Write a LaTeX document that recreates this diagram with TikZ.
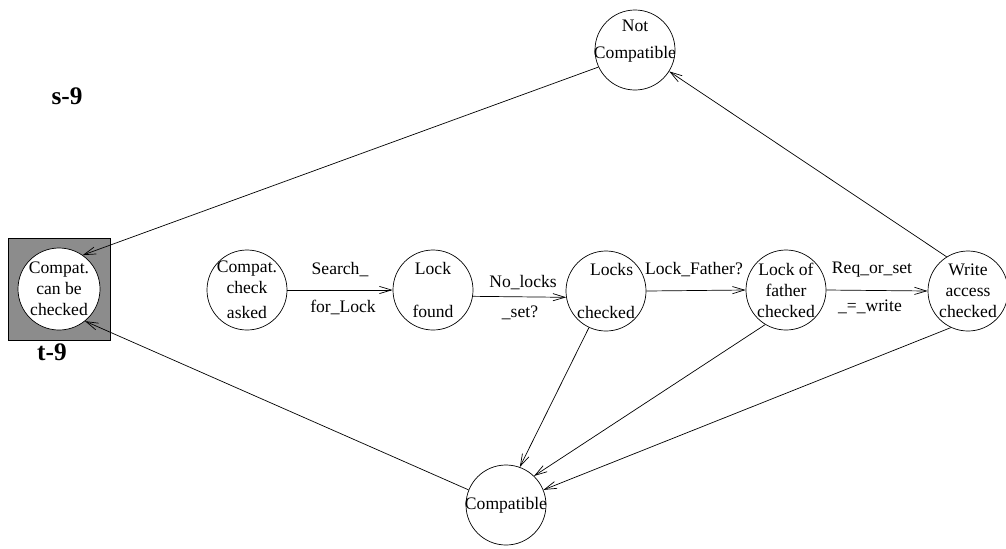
\documentclass[tikz,border=0pt]{standalone}
\usepackage{fontspec}
\setmainfont{Liberation Serif}
\usetikzlibrary{arrows.meta}

\definecolor{sqgray}{RGB}{140,140,140}

\begin{document}
\begin{tikzpicture}[
  x=0.025cm, y=-0.025cm,
  state/.style={draw, circle, fill=white, minimum size=2cm, inner sep=0pt, line width=0.5pt},
  stext/.style={align=center, inner sep=0pt, font=\fontsize{12.5}{15}\selectfont},
  edgelbl/.style={font=\fontsize{12.5}{15}\selectfont, inner sep=1pt},
  tag/.style={font=\fontsize{18}{20}\selectfont\bfseries},
  trans/.style={-{Straight Barb[length=3mm,width=1.8mm]}, line width=0.5pt},
]
\useasboundingbox (0,0) rectangle (1006,548);
% === Start state in grey square ===
\node[draw, fill=sqgray, minimum size=2.55cm, inner sep=0pt, line width=0.5pt] (sq) at (59,289) {};
\node[state, minimum size=2.05cm, label={[stext]center:{Compat.\\can be\\checked}}] (canbe) at (59,289) {};
\node[tag] (s9) at (67,96) {s-9};
\node[tag] (t9) at (52,352) {t-9};
% === States ===
\node[state, label={[stext]center:{Compat.\\check\\[3pt]asked}}] (asked) at (247,290) {};
\node[state, label={[stext]center:{Lock\\~\\found}}] (found) at (433,290) {};
\node[state, label={[stext]center:{\hspace*{8pt}Locks\\~\\checked}}] (locks) at (606,291) {};
\node[state, label={[stext]center:{Lock of\\father\\checked}}] (father) at (786,290) {};
\node[state, label={[stext]center:{Write\\access\\checked}}] (write) at (968,291) {};
\node[state, label={[stext]center:{Not\\[4pt]Compatible\\~}}] (notc) at (635,50) {};
\node[state, label={[stext]center:Compatible}] (compat) at (506,505) {};
% === Transitions ===
\draw[trans] (asked.east) -- (found.west);
\draw[trans] (found.-9) -- (locks.-171);
\draw[trans] (locks.east) -- (father.west);
\draw[trans] (father.east) -- (write.west);
\draw[trans] (write.122) -- (notc.-32);
\draw[trans] (notc.205) -- (canbe.55);
\draw[trans] (compat.158) -- (canbe.-51);
\draw[trans] (locks.-115) -- (compat.70);
\draw[trans] (father.-121) -- (compat.46);
\draw[trans] (write.-115) -- (compat.22);
% === Transition labels ===
\node[edgelbl] (l1a) at (340,270) {Search\_};
\node[edgelbl] (l1b) at (343,307) {for\_Lock};
\node[edgelbl] (l2a) at (523,283) {No\_locks};
\node[edgelbl] (l2b) at (520,313) {\_set?};
\node[edgelbl] (l3a) at (694,270) {Lock\_Father?};
\node[edgelbl] (l4a) at (872,270) {Req\_or\_set};
\node[edgelbl] (l4b) at (870,307) {\_=\_write};
\end{tikzpicture}
\end{document}
